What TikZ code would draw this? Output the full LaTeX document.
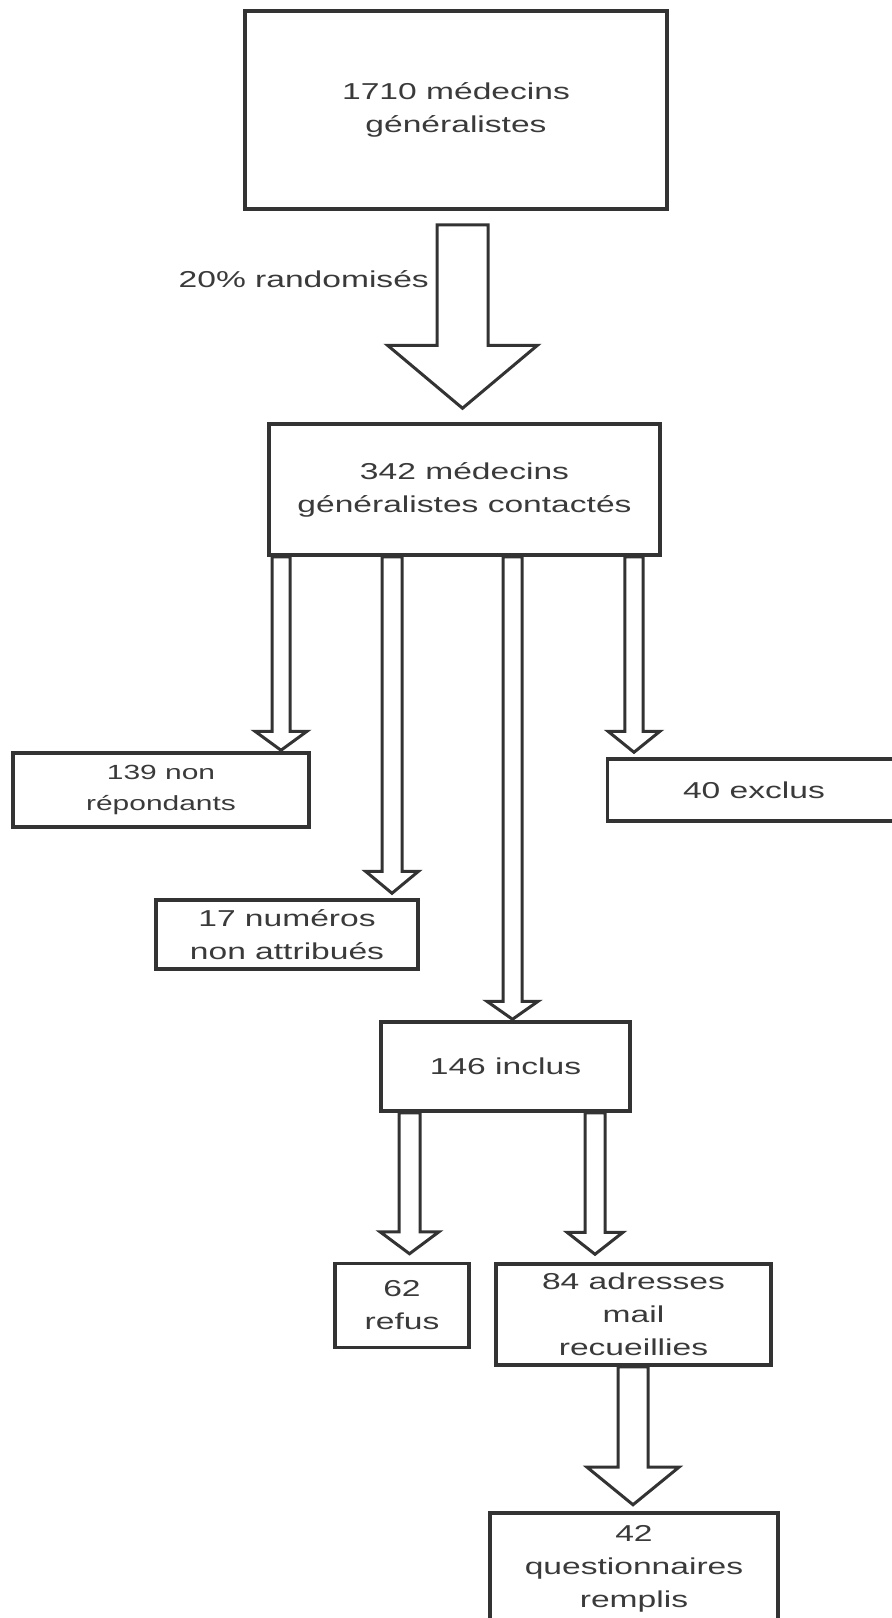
\documentclass[tikz,border=0pt]{standalone}
\usepackage{fontspec}
\setmainfont{Liberation Sans}[FakeStretch=1.46]
\usetikzlibrary{calc,positioning}
\definecolor{linegray}{HTML}{333333}
\definecolor{textgray}{HTML}{3A3A3A}

% block arrow: start, tip, shaft half width, head half width, head length
\newcommand{\fatarrow}[5]{%
  \draw[fat arrow] ($(#1)+(-#3,0)$) -- ($(#2)+(-#3,-#5)$) -- ($(#2)+(-#4,-#5)$) -- (#2)
    -- ($(#2)+(#4,-#5)$) -- ($(#2)+(#3,-#5)$) -- ($(#1)+(#3,0)$) -- cycle;}

\begin{document}
\begin{tikzpicture}[x=1pt,y=-1pt,
  box/.style={draw=linegray, line width=3.5pt, align=center, inner sep=0pt,
    text=textgray, font=\fontsize{23}{33}\selectfont},
  fat arrow/.style={draw=linegray, line width=3pt, line join=miter, fill=white}]
    \fill[white] (0,0) rectangle (892,1618);
    \useasboundingbox (0,0) rectangle (892,1618);

    \node[box, minimum width=422pt, minimum height=198pt] (n1710) at (456,110) {1710 médecins\\généralistes};
    \node[box, minimum width=391pt, minimum height=131pt] (n342) at (464.5,489.5) {342 médecins\\généralistes contactés};
    \node[box, minimum width=296pt, minimum height=74pt, font=\fontsize{20.5}{31}\selectfont] (nonrep) at (161,790) {139 non\\répondants};
    \node[box, minimum width=262pt, minimum height=69pt] (numeros) at (287,934.5) {17 numéros\\non attribués};
    \node[box, minimum width=293pt, minimum height=62pt] (exclus) at (754,790) {40 exclus};
    \node[box, minimum width=249pt, minimum height=89pt] (inclus) at (505.5,1066.5) {146 inclus};
    \node[box, minimum width=134pt, minimum height=84pt] (refus) at (402,1305.5) {62\\refus};
    \node[box, minimum width=275pt, minimum height=101pt] (mail) at (633.5,1314.5) {84 adresses\\mail\\recueillies};
    \node[box, minimum width=288pt, minimum height=112pt] (quest) at (634,1569) {42\\questionnaires\\remplis};

    % start and tip of every arrow
    \coordinate (s1) at ($(n1710.south)+(6.5,14)$);
    \coordinate (t1) at ($(n342.north)+(-2,-14)$);
    \coordinate (sA) at ($(n342.south)+(-183.5,0)$);
    \coordinate (tA) at ($(nonrep.north)+(120,-1)$);
    \coordinate (sB) at ($(n342.south)+(-72.5,0)$);
    \coordinate (tB) at ($(numeros.north)+(105,-5)$);
    \coordinate (sC) at ($(n342.south)+(48,0)$);
    \coordinate (tC) at ($(inclus.north)+(7,-1)$);
    \coordinate (sD) at ($(n342.south)+(169.5,0)$);
    \coordinate (tD) at ($(exclus.north)+(-120,-5)$);
    \coordinate (sE) at ($(inclus.south)+(-96,0)$);
    \coordinate (tE) at ($(refus.north)+(7.5,-8)$);
    \coordinate (sF) at ($(inclus.south)+(89.5,0)$);
    \coordinate (tF) at ($(mail.north)+(-38.5,-8)$);
    \coordinate (sG) at ($(mail.south)+(-0.5,0)$);
    \coordinate (tG) at ($(quest.north)+(-1,-6.5)$);

    \foreach \s/\t/\w/\h/\l in
    {s1/t1/25.5/75/63,
        sA/tA/9/26/19,
        sB/tB/10/26.5/22,
        sC/tC/9.5/25.6/18,
        sD/tD/9.2/26/21,
        sE/tE/10.5/29.5/22,
        sF/tF/10/28/22,
        sG/tG/15/46/37.6
    }
    {
        \fatarrow{\s}{\t}{\w}{\h}{\l}
    };

    \node[anchor=east, inner sep=0pt, text=textgray, font=\fontsize{23}{33}\selectfont] (rand) at ($(s1)+(-33.5,54)$) {20\% randomisés};
\end{tikzpicture}
\end{document}
